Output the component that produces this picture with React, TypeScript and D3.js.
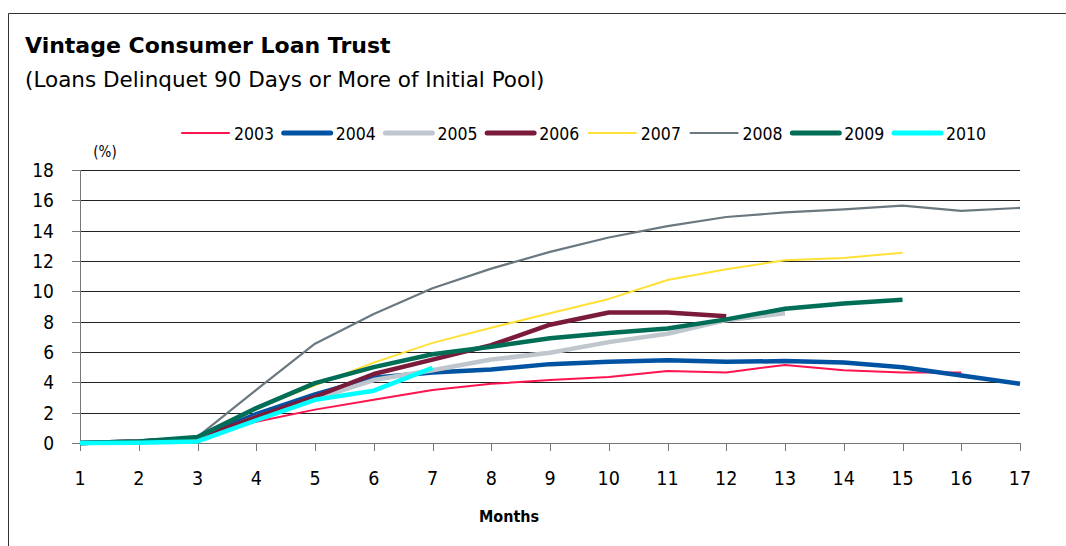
import React from 'react';
import * as d3 from 'd3';

const months = [1, 2, 3, 4, 5, 6, 7, 8, 9, 10, 11, 12, 13, 14, 15, 16, 17];
const yTicks = [0, 2, 4, 6, 8, 10, 12, 14, 16, 18];

const vintages = ['2003', '2004', '2005', '2006', '2007', '2008', '2009', '2010'];
const v2003 = [0, 0.1, 0.4, 1.4, 2.2, 2.85, 3.5, 3.9, 4.15, 4.35, 4.75, 4.65, 5.15, 4.8, 4.65, 4.65];
const v2004 = [0, 0.1, 0.3, 1.9, 3.2, 4.3, 4.65, 4.85, 5.2, 5.35, 5.45, 5.35, 5.4, 5.3, 5.0, 4.45, 3.9];
const v2005 = [0, 0.1, 0.2, 1.7, 2.9, 4.15, 4.8, 5.5, 5.95, 6.65, 7.2, 8.1, 8.55];
const v2006 = [0, 0.1, 0.3, 1.7, 3.05, 4.55, 5.5, 6.45, 7.8, 8.6, 8.6, 8.35];
const v2007 = [0, 0.1, 0.3, 2.3, 3.8, 5.3, 6.6, 7.6, 8.55, 9.5, 10.75, 11.45, 12.05, 12.2, 12.55];
const v2008 = [0, 0.1, 0.4, 3.5, 6.55, 8.5, 10.2, 11.5, 12.6, 13.55, 14.3, 14.9, 15.2, 15.4, 15.65, 15.3, 15.5];
const v2009 = [0, 0.1, 0.4, 2.3, 3.95, 5.0, 5.85, 6.35, 6.9, 7.25, 7.55, 8.15, 8.85, 9.2, 9.45];
const v2010 = [0, 0.02, 0.1, 1.5, 2.85, 3.45, 4.95];

const seriesValues = [v2003, v2004, v2005, v2006, v2007, v2008, v2009, v2010];
const seriesColors = ['#ff1450', '#0052a2', '#bfc6cd', '#7a1b3b', '#ffe135', '#6b7880', '#006e57', '#00ffff'];
const seriesWidths = [2, 4.5, 4.5, 4.5, 2, 2.2, 4.5, 4.5];

const FONT = "'DejaVu Sans', sans-serif";

export default function App() {
  const x = d3.scaleLinear().domain([1, 17]).range([80, 1020]);
  const y = d3.scaleLinear().domain([0, 18]).range([443, 170]);
  const line = d3.line<number>().x((_, i) => x(months[i])).y(d => y(d));
  // legend slots, evenly spaced
  const legendPos = d3.scalePoint<string>().domain(vintages).range([181, 893]);

  return (
    <svg width={1066} height={546} style={{ position: 'absolute', left: 0, top: 0 }}
      fontFamily={FONT}>
      <rect width={1066} height={546} fill="#fff" />
      <path d="M8.5,546 V13.5 H1066" fill="none" stroke="#333" strokeWidth={1} />
      <text x={25} y={53} fontSize={22} fontWeight="bold" fill="#000">Vintage Consumer Loan Trust</text>
      <text x={25} y={87} fontSize={21.5} fill="#000">(Loans Delinquet 90 Days or More of Initial Pool)</text>

      <g fontStretch="condensed">
        {vintages.map((v, i) => {
          const lx = legendPos(v) ?? 0;
          return (
            <g key={v}>
              <line x1={lx + 1} x2={lx + 48} y1={133} y2={133}
                stroke={seriesColors[i]} strokeWidth={seriesWidths[i] > 3 ? 5 : 2.2} strokeLinecap="round" />
              <text x={lx + 53} y={140} fontSize={17.5} fill="#000">{v}</text>
            </g>
          );
        })}

        <text x={105} y={157} fontSize={15} textAnchor="middle" fill="#000">(%)</text>

        {yTicks.filter(t => t > 0).map(t => (
          <line key={t} x1={x(1)} x2={x(17)} y1={Math.round(y(t)) + 0.5} y2={Math.round(y(t)) + 0.5}
            stroke="#222" strokeWidth={1} />
        ))}
        <line x1={80.5} x2={80.5} y1={y(18)} y2={y(0)} stroke="#777" />
        {yTicks.map(t => (
          <g key={t}>
            <line x1={72} x2={80} y1={Math.round(y(t)) + 0.5} y2={Math.round(y(t)) + 0.5} stroke="#777" />
            <text x={54} y={y(t) + 7} fontSize={19} textAnchor="end" fill="#000">{t}</text>
          </g>
        ))}
        <line x1={80} x2={1020} y1={443.5} y2={443.5} stroke="#777" />
        {months.map(m => (
          <g key={m}>
            <line x1={Math.round(x(m)) + 0.5} x2={Math.round(x(m)) + 0.5} y1={443} y2={451} stroke="#777" />
            <text x={x(m)} y={485} fontSize={19.5} textAnchor="middle" fill="#000">{m}</text>
          </g>
        ))}
        <text x={509} y={522} fontSize={16} fontWeight="bold" textAnchor="middle" fill="#000">Months</text>
      </g>

      {seriesValues.map((vals, i) => (
        <path key={vintages[i]} d={line(vals) ?? ''} fill="none" stroke={seriesColors[i]}
          strokeWidth={seriesWidths[i]} strokeLinejoin="round" />
      ))}
    </svg>
  );
}
